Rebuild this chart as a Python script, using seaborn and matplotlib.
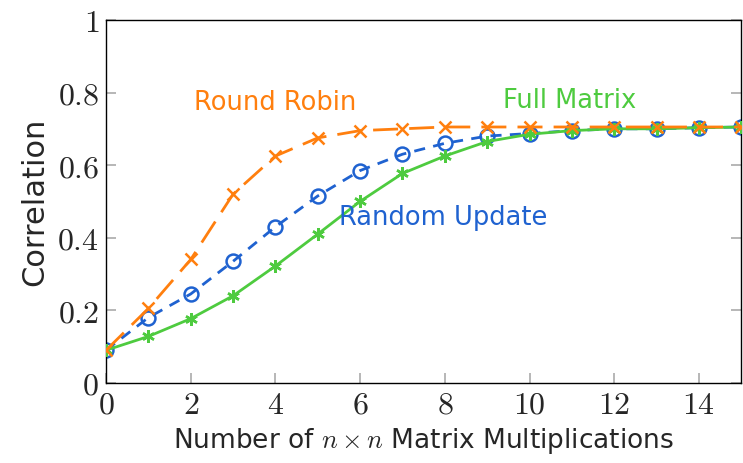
import matplotlib
matplotlib.use("Agg")
import matplotlib.pyplot as plt
import seaborn as sns
import pandas as pd

steps = list(range(16))
round_robin = [0.09, 0.205, 0.34, 0.52, 0.625, 0.675, 0.695, 0.70, 0.705, 0.705, 0.705, 0.705, 0.705, 0.705, 0.705, 0.705]
random_update = [0.09, 0.18, 0.245, 0.335, 0.43, 0.515, 0.585, 0.63, 0.66, 0.68, 0.687, 0.695, 0.70, 0.70, 0.703, 0.705]
full_matrix = [0.09, 0.128, 0.177, 0.24, 0.322, 0.41, 0.50, 0.577, 0.625, 0.665, 0.685, 0.695, 0.70, 0.70, 0.703, 0.705]
series_names = ["Round Robin", "Random Update", "Full Matrix"]
xticks = [0, 2, 4, 6, 8, 10, 12, 14]
yticks = [0, 0.2, 0.4, 0.6, 0.8, 1]
ytick_labels = ["0", "0.2", "0.4", "0.6", "0.8", "1"]

sns.set_theme(style="white")
plt.rcParams["mathtext.fontset"] = "cm"
plt.rcParams["font.family"] = ["DejaVu Sans"]

df = pd.DataFrame({
    "step": steps * 3,
    "corr": round_robin + random_update + full_matrix,
    "method": [series_names[0]] * 16 + [series_names[1]] * 16 + [series_names[2]] * 16,
})

colors = {"Round Robin": "#ff7f0e", "Random Update": "#1f62d0", "Full Matrix": "#4ecb3f"}
styles = {"Round Robin": (0, (9, 4)), "Random Update": (0, (4, 3)), "Full Matrix": "-"}
markers = {"Round Robin": "x", "Random Update": "o", "Full Matrix": (6, 2, 0)}

fig = plt.figure(figsize=(7.43, 4.63), dpi=100)
ax = fig.add_axes([0.1427, 0.173, 0.855, 0.784])

for name in ["Full Matrix", "Random Update", "Round Robin"]:
    sub = df[df["method"] == name]
    mfc = "none" if name == "Random Update" else colors[name]
    sns.lineplot(data=sub, x="step", y="corr", ax=ax, color=colors[name],
                 linestyle=styles[name], linewidth=2, marker=markers[name],
                 markersize=10 if name == "Random Update" else 9,
                 markerfacecolor=mfc, markeredgecolor=colors[name],
                 markeredgewidth=1.8, legend=False, zorder=3 if name != "Random Update" else 2)

ax.set_xlim(0, 15)
ax.set_ylim(0, 1)
ax.set_xticks(xticks)
ax.set_yticks(yticks)
ax.set_xticklabels([f"${t}$" for t in xticks], fontsize=23)
ax.set_yticklabels([f"${t}$" for t in ytick_labels], fontsize=23)
ax.tick_params(direction="in", length=7, color="#aaaaaa", width=1.2, right=True, top=False, bottom=True, left=True, pad=5)
for s in ax.spines.values():
    s.set_color("black")
    s.set_linewidth(1.0)

ax.set_xlabel(r"Number of $n \times n$ Matrix Multiplications", fontsize=19, labelpad=4)
ax.set_ylabel("Correlation", fontsize=22, labelpad=6)

ax.text(4.0, 0.77, "Round Robin", color=colors["Round Robin"], fontsize=18.5, ha="center", va="center")
ax.text(10.95, 0.776, "Full Matrix", color=colors["Full Matrix"], fontsize=18.5, ha="center", va="center")
ax.text(7.97, 0.453, "Random Update", color=colors["Random Update"], fontsize=18.5, ha="center", va="center")

fig.savefig("out.png", dpi=100)
